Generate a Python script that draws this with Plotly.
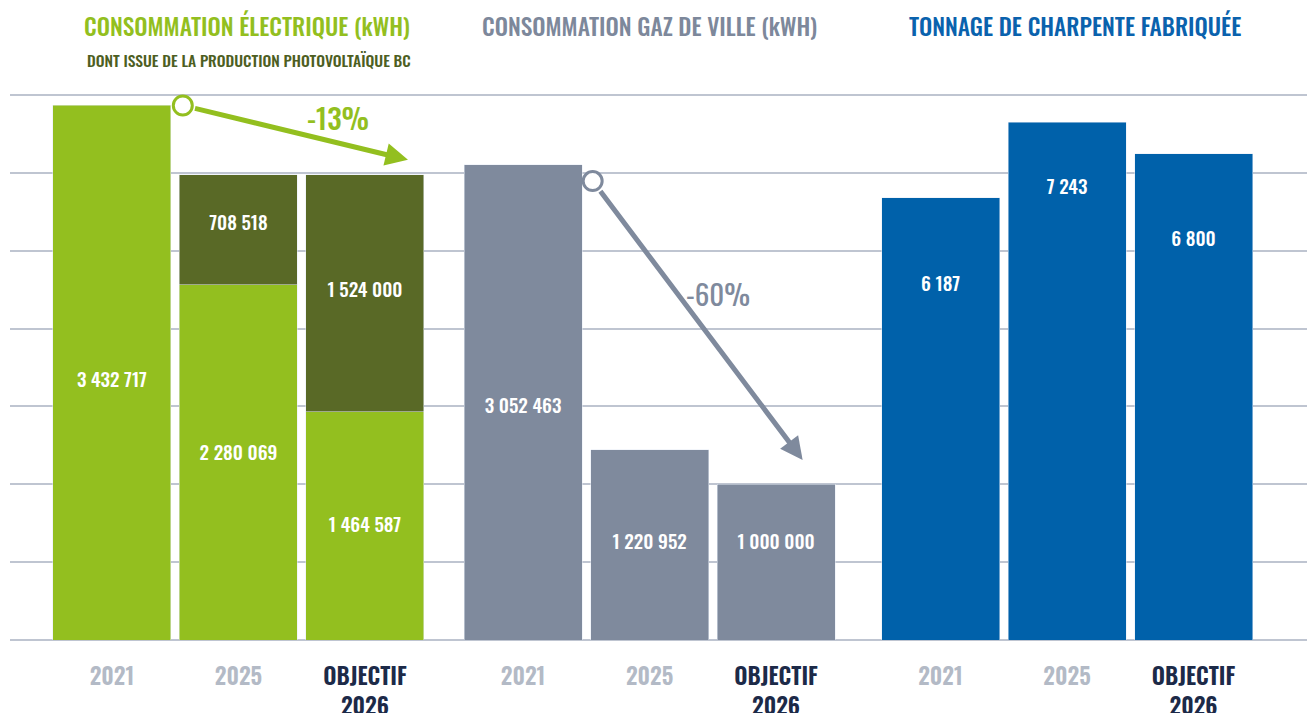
import plotly.graph_objects as go

# ---- data ----
years = ["2021", "2025", "OBJECTIF<br>2026"]
elec_grid = [3432717, 2280069, 1464587]      # light green part (2021 = whole consumption)
elec_pv = [None, 708518, 1524000]            # photovoltaic part (dark)
gas = [3052463, 1220952, 1000000]
tonnage = [6187, 7243, 6800]
elec_change = "-13%"
gas_change = "-60%"

# ---- styling ----
FONT = "Oswald, Roboto Condensed, Open Sans Condensed, sans-serif"
GREEN = "#93bf1f"
OLIVE = "#596926"
GREY = "#7f8a9d"
BLUE = "#0061aa"
GRID = "#bfc5d1"
YEAR_GREY = "#b3bac6"
NAVY = "#1c2a48"

W, H = 1312, 713
M_L, M_R, M_T, M_B = 10, 5, 89, 73
BASE_PX, TOP_GRID_PX = H - M_B, 95          # pixel rows of 0 and of the top grid line
GRID_TOP = 3.5e6
Y_TOP = GRID_TOP * (BASE_PX - M_T) / (BASE_PX - TOP_GRID_PX)
T_PER_KWH = 0.002178            # scale linking tonnage axis to energy axis
BAR_W = 0.933

# slot positions of the three groups
elec_x = [0, 1, 2]
gas_x = [3.25, 4.25, 5.25]
ton_x = [6.55, 7.55, 8.55]
X_RANGE = [-0.806, 9.447]

# where each value label sits, as a fraction of its own segment height
grid_lbl_frac = [0.482, 0.52, 0.496]
pv_lbl_frac = [None, 0.545, 0.506]
gas_lbl_frac = [0.487, 0.505, 0.615]
ton_lbl_frac = [0.80, 0.87, 0.82]

fmt = lambda v: f"{v:,}".replace(",", " ")
lbl_font = dict(family=FONT, size=19, color="white", weight=500)

fig = go.Figure()
fig.add_bar(x=elec_x, y=elec_grid, width=BAR_W, marker_color=GREEN)
fig.add_bar(x=elec_x, y=elec_pv, width=BAR_W, marker_color=OLIVE)
fig.add_bar(x=gas_x, y=gas, width=BAR_W, marker_color=GREY)
fig.add_bar(x=ton_x, y=tonnage, width=BAR_W, marker_color=BLUE, yaxis="y2")

# value labels
lx, ly, lt = [], [], []
for x, g, fg, p, fp in zip(elec_x, elec_grid, grid_lbl_frac, elec_pv, pv_lbl_frac):
    lx.append(x); ly.append(g * fg); lt.append(fmt(g))
    if p:
        lx.append(x); ly.append(g + p * fp); lt.append(fmt(p))
for x, v, f in zip(gas_x, gas, gas_lbl_frac):
    lx.append(x); ly.append(v * f); lt.append(fmt(v))
fig.add_scatter(x=lx, y=ly, mode="text", text=lt, textfont=lbl_font, hoverinfo="skip")
fig.add_scatter(x=ton_x, y=[v * f for v, f in zip(tonnage, ton_lbl_frac)],
                yaxis="y2", mode="text", text=[fmt(v) for v in tonnage],
                textfont=lbl_font, hoverinfo="skip")

# ---- trend arrows ----
elec_total_2021 = elec_grid[0]
elec_total_2026 = elec_grid[2] + elec_pv[2]
arrows = [
    dict(color=GREEN, tail=(elec_x[0] + 0.56, elec_total_2021),
         head=(elec_x[2] + 0.34, elec_total_2026 + 0.095e6),
         label=elec_change, label_xy=(1.79, 3.36e6), weight=500),
    dict(color=GREY, tail=(gas_x[0] + 0.55, gas[0] - 0.105e6),
         head=(gas_x[2] + 0.21, gas[2] + 0.156e6),
         label=gas_change, label_xy=(4.79, 2.23e6), weight=400),
]
for a in arrows:
    fig.add_annotation(x=a["head"][0], y=a["head"][1], xref="x", yref="y",
                       ax=a["tail"][0], ay=a["tail"][1], axref="x", ayref="y",
                       text="", showarrow=True, arrowhead=2, arrowsize=0.9,
                       arrowwidth=5, arrowcolor=a["color"], standoff=0,
                       startstandoff=11)
    fig.add_scatter(x=[a["tail"][0]], y=[a["tail"][1]], mode="markers",
                    marker=dict(symbol="circle", size=19, color="white",
                                line=dict(color=a["color"], width=3)),
                    hoverinfo="skip")
    fig.add_annotation(x=a["label_xy"][0], y=a["label_xy"][1], xref="x", yref="y",
                       text=a["label"], showarrow=False,
                       font=dict(family=FONT, size=29, color=a["color"],
                                 weight=a["weight"]))

# ---- group titles ----
plot_h = H - M_T - M_B
py = lambda ypx: (H - M_B - ypx) / plot_h
title_font = lambda c: dict(family=FONT, size=23.5, color=c, weight=500)
fig.add_annotation(x=elec_x[1] + 0.07, y=py(26), xref="x", yref="paper",
                   text="CONSOMMATION ÉLECTRIQUE (kWH)", showarrow=False,
                   font=title_font(GREEN), yanchor="middle")
fig.add_annotation(x=elec_x[1] + 0.08, y=py(60), xref="x", yref="paper",
                   text="DONT ISSUE DE LA PRODUCTION PHOTOVOLTAÏQUE BC",
                   showarrow=False, yanchor="middle",
                   font=dict(family=FONT, size=15.6, color="#4d5e22", weight=500))
fig.add_annotation(x=gas_x[1], y=py(26), xref="x", yref="paper",
                   text="CONSOMMATION GAZ DE VILLE (kWH)", showarrow=False,
                   font=title_font("#7d889b"), yanchor="middle")
fig.add_annotation(x=ton_x[1] + 0.06, y=py(26), xref="x", yref="paper",
                   text="TONNAGE DE CHARPENTE FABRIQUÉE", showarrow=False,
                   font=title_font("#0a62ad"), yanchor="middle")

# ---- axes ----
tick_text = [y if not y.startswith("OBJ") else f'<span style="color:{NAVY}">{y}</span>'
             for y in years] * 3
fig.update_layout(
    width=W, height=H, margin=dict(l=M_L, r=M_R, t=M_T, b=M_B),
    paper_bgcolor="white", plot_bgcolor="white",
    barmode="stack", showlegend=False,
    xaxis=dict(range=X_RANGE, tickvals=elec_x + gas_x + ton_x, ticktext=tick_text,
               showgrid=False, zeroline=False, showline=False, ticks="",
               ticklabelstandoff=21, automargin=False,
               tickfont=dict(family=FONT, size=23, color=YEAR_GREY, weight=600)),
    yaxis=dict(range=[0, Y_TOP], tick0=0, dtick=0.5e6, showgrid=True, gridcolor=GRID,
               gridwidth=1.5, zeroline=True, zerolinecolor=GRID, zerolinewidth=2,
               showticklabels=False, ticks="", automargin=False),
    yaxis2=dict(range=[0, Y_TOP * T_PER_KWH], overlaying="y", showgrid=False,
                zeroline=False, showticklabels=False, ticks="", automargin=False),
)

fig.write_html("out.html")
